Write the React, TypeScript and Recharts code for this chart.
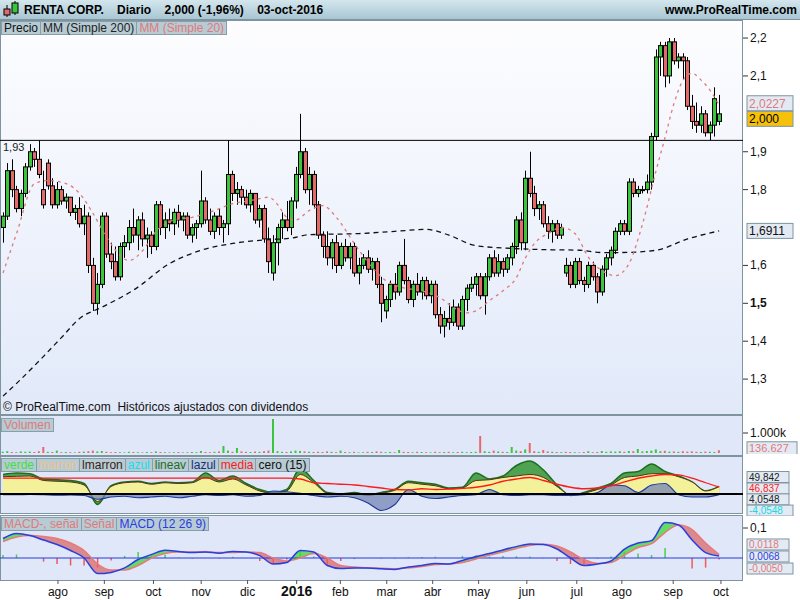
import { Area, Bar, Cell, ComposedChart, Line, ReferenceLine, XAxis, YAxis } from "recharts";

// daily candles, read roughly every second session: [open, high, low, close]
const ohlc: [number, number, number, number][] = [
  [1.70, 1.74, 1.66, 1.73], [1.73, 1.87, 1.72, 1.85], [1.85, 1.88, 1.78, 1.80], [1.80, 1.81, 1.74, 1.75],
  [1.75, 1.80, 1.73, 1.79], [1.79, 1.87, 1.78, 1.86], [1.86, 1.92, 1.85, 1.90], [1.90, 1.91, 1.86, 1.88],
  [1.88, 1.93, 1.83, 1.84], [1.80, 1.85, 1.75, 1.76], [1.87, 1.88, 1.80, 1.81], [1.81, 1.83, 1.75, 1.76],
  [1.76, 1.82, 1.75, 1.80], [1.80, 1.81, 1.76, 1.77], [1.77, 1.79, 1.75, 1.78], [1.78, 1.78, 1.73, 1.74],
  [1.74, 1.76, 1.72, 1.75], [1.75, 1.78, 1.70, 1.71], [1.71, 1.76, 1.68, 1.73], [1.73, 1.74, 1.58, 1.60],
  [1.60, 1.62, 1.48, 1.50], [1.50, 1.58, 1.47, 1.55], [1.55, 1.74, 1.54, 1.73], [1.73, 1.74, 1.62, 1.63],
  [1.63, 1.66, 1.59, 1.61], [1.61, 1.65, 1.56, 1.57], [1.57, 1.66, 1.56, 1.65], [1.65, 1.68, 1.62, 1.66],
  [1.66, 1.72, 1.64, 1.70], [1.70, 1.75, 1.66, 1.68], [1.68, 1.73, 1.64, 1.72], [1.72, 1.74, 1.65, 1.67],
  [1.67, 1.70, 1.62, 1.68], [1.68, 1.69, 1.63, 1.65], [1.65, 1.77, 1.64, 1.76], [1.76, 1.77, 1.68, 1.70],
  [1.70, 1.74, 1.67, 1.72], [1.72, 1.75, 1.69, 1.71], [1.71, 1.75, 1.68, 1.74], [1.74, 1.76, 1.70, 1.72],
  [1.72, 1.74, 1.69, 1.73], [1.73, 1.74, 1.67, 1.68], [1.68, 1.71, 1.66, 1.70], [1.70, 1.72, 1.67, 1.71],
  [1.71, 1.85, 1.70, 1.77], [1.77, 1.78, 1.71, 1.72], [1.72, 1.75, 1.68, 1.69], [1.69, 1.74, 1.67, 1.73],
  [1.73, 1.75, 1.68, 1.70], [1.70, 1.72, 1.66, 1.71], [1.71, 1.93, 1.68, 1.84], [1.84, 1.85, 1.77, 1.79],
  [1.79, 1.82, 1.76, 1.80], [1.80, 1.81, 1.76, 1.78], [1.78, 1.80, 1.75, 1.76], [1.76, 1.80, 1.74, 1.79],
  [1.79, 1.79, 1.71, 1.72], [1.72, 1.76, 1.70, 1.75], [1.75, 1.76, 1.66, 1.67], [1.67, 1.70, 1.58, 1.61],
  [1.58, 1.68, 1.56, 1.66], [1.66, 1.71, 1.60, 1.70], [1.70, 1.74, 1.67, 1.72], [1.72, 1.77, 1.69, 1.70],
  [1.70, 1.78, 1.68, 1.77], [1.77, 1.86, 1.75, 1.84], [1.84, 2.00, 1.83, 1.90], [1.90, 1.91, 1.79, 1.80],
  [1.80, 1.86, 1.76, 1.84], [1.84, 1.85, 1.75, 1.76], [1.76, 1.77, 1.67, 1.68], [1.68, 1.69, 1.62, 1.65],
  [1.65, 1.69, 1.60, 1.62], [1.62, 1.67, 1.59, 1.66], [1.66, 1.68, 1.58, 1.60], [1.60, 1.66, 1.59, 1.65],
  [1.65, 1.67, 1.61, 1.62], [1.62, 1.66, 1.59, 1.65], [1.65, 1.66, 1.57, 1.58], [1.58, 1.62, 1.55, 1.60],
  [1.60, 1.63, 1.59, 1.62], [1.62, 1.64, 1.58, 1.59], [1.59, 1.62, 1.56, 1.61], [1.61, 1.62, 1.54, 1.55],
  [1.55, 1.57, 1.45, 1.50], [1.48, 1.52, 1.46, 1.51], [1.51, 1.56, 1.49, 1.55], [1.55, 1.58, 1.51, 1.53],
  [1.53, 1.61, 1.52, 1.60], [1.60, 1.67, 1.55, 1.56], [1.56, 1.57, 1.50, 1.51], [1.51, 1.56, 1.49, 1.55],
  [1.55, 1.58, 1.52, 1.53], [1.53, 1.57, 1.51, 1.56], [1.56, 1.57, 1.51, 1.52], [1.52, 1.56, 1.50, 1.55],
  [1.55, 1.56, 1.46, 1.47], [1.47, 1.49, 1.42, 1.44], [1.44, 1.48, 1.41, 1.46], [1.46, 1.50, 1.43, 1.45],
  [1.45, 1.51, 1.44, 1.49], [1.49, 1.50, 1.43, 1.44], [1.44, 1.52, 1.43, 1.51], [1.51, 1.55, 1.48, 1.54],
  [1.54, 1.57, 1.53, 1.55], [1.55, 1.58, 1.52, 1.57], [1.57, 1.58, 1.51, 1.52], [1.52, 1.58, 1.47, 1.57],
  [1.57, 1.63, 1.56, 1.62], [1.62, 1.64, 1.57, 1.58], [1.58, 1.63, 1.57, 1.61], [1.61, 1.62, 1.57, 1.59],
  [1.59, 1.63, 1.58, 1.62], [1.62, 1.66, 1.60, 1.65], [1.65, 1.73, 1.63, 1.72], [1.72, 1.74, 1.64, 1.66],
  [1.66, 1.85, 1.64, 1.83], [1.83, 1.90, 1.78, 1.79], [1.79, 1.81, 1.73, 1.75], [1.75, 1.77, 1.72, 1.76],
  [1.76, 1.77, 1.70, 1.71], [1.71, 1.73, 1.67, 1.69], [1.69, 1.72, 1.66, 1.71], [1.71, 1.72, 1.67, 1.68],
  [1.68, 1.71, 1.67, 1.70], [1.58, 1.62, 1.57, 1.60], [1.60, 1.61, 1.54, 1.55], [1.55, 1.62, 1.54, 1.61],
  [1.61, 1.62, 1.55, 1.56], [1.56, 1.57, 1.53, 1.55], [1.55, 1.61, 1.54, 1.60], [1.60, 1.61, 1.56, 1.57],
  [1.57, 1.58, 1.50, 1.53], [1.53, 1.60, 1.52, 1.59], [1.59, 1.63, 1.57, 1.62], [1.62, 1.65, 1.60, 1.64],
  [1.64, 1.70, 1.63, 1.69], [1.69, 1.72, 1.68, 1.71], [1.71, 1.72, 1.68, 1.69], [1.69, 1.83, 1.68, 1.82],
  [1.82, 1.83, 1.78, 1.79], [1.79, 1.81, 1.78, 1.80], [1.80, 1.81, 1.79, 1.80], [1.80, 1.84, 1.79, 1.82],
  [1.82, 1.95, 1.80, 1.94], [1.94, 2.17, 1.93, 2.15], [2.15, 2.19, 2.10, 2.18], [2.18, 2.19, 2.07, 2.10],
  [2.10, 2.20, 2.08, 2.19], [2.19, 2.20, 2.13, 2.14], [2.14, 2.16, 2.12, 2.15], [2.15, 2.16, 2.09, 2.14],
  [2.14, 2.15, 2.01, 2.02], [2.02, 2.05, 1.96, 1.98], [1.98, 2.03, 1.95, 1.97], [1.97, 2.02, 1.95, 2.00],
  [2.00, 2.01, 1.94, 1.95], [1.95, 1.98, 1.93, 1.97], [1.97, 2.07, 1.94, 2.04], [1.98, 2.05, 1.97, 2.00],
];

// volume in thousands, one per candle
const volumes = [
  60, 90, 50, 40, 80, 60, 70, 50, 90, 300, 60, 50, 120, 40, 50, 40, 30, 60, 70, 90,
  120, 80, 100, 60, 40, 50, 40, 30, 60, 50, 40, 30, 50, 40, 80, 50, 40, 30, 40, 50,
  30, 40, 50, 40, 100, 50, 40, 60, 80, 350, 120, 60, 250, 80, 60, 50, 70, 60, 90, 120,
  1700, 90, 60, 50, 80, 120, 100, 80, 60, 50, 60, 50, 80, 60, 40, 120, 50, 40, 60, 30,
  40, 60, 50, 80, 60, 40, 50, 40, 150, 60, 50, 40, 60, 50, 40, 30, 60, 40, 50, 60,
  40, 50, 60, 40, 50, 60, 850, 90, 60, 120, 80, 60, 50, 300, 120, 90, 180, 500, 90, 60,
  150, 80, 60, 50, 40, 60, 50, 40, 30, 50, 90, 40, 50, 100, 60, 80, 70, 90, 60, 100,
  90, 200, 80, 100, 120, 180, 90, 110, 70, 80, 60, 90, 70, 80, 60, 50, 70, 60, 50, 137,
];

// moving averages: [candle index, value]
const ma20: [number, number][] = [
  [0, 1.58], [3, 1.684], [7, 1.816], [10, 1.824], [14, 1.816], [17, 1.79], [20, 1.737], [23, 1.674],
  [28, 1.613], [31, 1.639], [34, 1.69], [38, 1.72], [42, 1.727], [47, 1.745], [51, 1.763], [55, 1.771],
  [59, 1.78], [61, 1.76], [63, 1.727], [65, 1.72], [68, 1.745], [71, 1.758], [74, 1.727], [78, 1.658],
  [82, 1.594], [85, 1.56], [89, 1.541], [93, 1.533], [97, 1.515], [100, 1.489], [103, 1.475], [105, 1.48],
  [108, 1.507], [111, 1.533], [114, 1.568], [116, 1.62], [118, 1.658], [121, 1.684], [124, 1.70], [127, 1.684],
  [130, 1.621], [133, 1.586], [136, 1.573], [139, 1.605], [142, 1.71], [145, 1.85], [147, 1.938], [149, 2.028],
  [151, 2.089], [153, 2.107], [155, 2.089], [157, 2.062], [159, 2.0227],
];
const ma200: [number, number][] = [
  [0, 1.255], [4, 1.30], [9, 1.36], [13, 1.41], [17, 1.46], [22, 1.49], [29, 1.535], [37, 1.605],
  [44, 1.64], [51, 1.658], [59, 1.668], [64, 1.672], [68, 1.681], [79, 1.684], [87, 1.69], [94, 1.695],
  [99, 1.68], [105, 1.652], [113, 1.645], [119, 1.642], [128, 1.64], [133, 1.634], [137, 1.634], [145, 1.64],
  [152, 1.67], [159, 1.6911],
];

// lower panels, one value every third candle
const verde = [130, 140, 135, 100, 95, 90, 70, -70, 55, 80, 85, 70, 80, 75, 80, 140, 90, 120, 70, 30,
  10, 30, 170, 90, 10, 0, 10, -5, 10, 30, 85, 75, 65, 40, 45, 140, 100, 120, 190, 220,
  160, 60, -10, 10, 40, 70, 140, 150, 200, 150, 120, 80, 20, 49.8];
const marron = [115, 118, 120, 90, 85, 80, 60, -50, 50, 75, 80, 65, 75, 70, 75, 110, 80, 100, 60, 20,
  5, 20, 130, 75, 5, -5, 5, -10, 5, 25, 75, 65, 55, 35, 40, 90, 95, 110, 120, 130,
  110, 50, -5, 5, 30, 60, 110, 120, 135, 135, 115, 80, 20, 49.8];
const azul = [-5, -5, -3, -5, -8, -6, -10, -35, -20, -15, -25, -20, -15, -25, -15, -5, -10, -5, -15, -10,
  20, 15, 5, -10, -20, -15, -25, -60, -110, -70, 30, -15, -30, -20, -10, -5, 30, -5, -10, -5,
  -5, -10, -10, -5, 10, 60, 55, 10, 60, 70, -5, -20, -20, -4.05];
const media = [106, 106, 106, 106, 106, 106, 106, 106, 106, 106, 106, 106, 106, 106, 106, 106, 106, 106, 106, 106,
  106, 106, 100, 75, 70, 65, 60, 50, 40, 30, 28, 35, 30, 32, 38, 45, 60, 85, 100, 110,
  90, 65, 45, 35, 40, 55, 80, 105, 120, 130, 128, 105, 75, 46.8];
const macd = [0.065, 0.082, 0.075, 0.06, 0.045, 0.025, 0.0, -0.052, -0.048, -0.033, -0.005, 0.012, 0.026, 0.022,
  0.018, 0.02, 0.016, 0.022, 0.02, 0.008, -0.02, -0.015, 0.025, 0.02, -0.025, -0.035, -0.033, -0.033,
  -0.036, -0.038, -0.03, -0.025, -0.018, -0.02, -0.008, 0.005, 0.015, 0.027, 0.038, 0.047, 0.045, 0.03,
  0.0, -0.025, -0.02, -0.01, 0.03, 0.05, 0.058, 0.118, 0.11, 0.06, 0.018, 0.0068];
const senal = [0.055, 0.07, 0.075, 0.072, 0.065, 0.05, 0.025, -0.02, -0.04, -0.04, -0.025, 0.0, 0.015, 0.02,
  0.02, 0.02, 0.018, 0.018, 0.02, 0.018, 0.0, -0.01, 0.0, 0.015, 0.0, -0.025, -0.03, -0.033,
  -0.034, -0.036, -0.033, -0.028, -0.022, -0.02, -0.015, -0.003, 0.01, 0.02, 0.032, 0.042, 0.046, 0.04,
  0.02, -0.005, -0.018, -0.015, 0.01, 0.035, 0.048, 0.085, 0.11, 0.095, 0.05, 0.0118];

const monthTicks: [number, string][] = [
  [12.2, "ago"], [22.5, "sep"], [33.4, "oct"], [44, "nov"], [54.3, "dic"], [65.2, "2016"], [74.9, "feb"],
  [85.2, "mar"], [95.4, "abr"], [105.6, "may"], [116.3, "jun"], [127.4, "jul"], [137.4, "ago"], [148.8, "sep"],
  [159.4, "oct"],
];

const GREEN = "#3dc43d";
const RED = "#e46a6a";
const PINK = "#e07a7a";
const FONT = "'Liberation Sans', Arial, sans-serif";
const X_DOMAIN: [number, number] = [-0.67, 164.3];

const ma20Map = new Map(ma20);
const ma200Map = new Map(ma200);
const priceData = ohlc.map(([o, h, l, c], i) => ({
  i, o, h, l, c,
  v: volumes[i],
  down: i > 0 && c < ohlc[i - 1][3],
  ma20: ma20Map.get(i) ?? null,
  ma200: ma200Map.get(i) ?? null,
}));

const lowerData = verde.map((g, k) => ({
  i: k * 3,
  verde: g,
  marron: marron[k],
  azul: azul[k],
  media: media[k],
  macd: macd[k],
  senal: senal[k],
  hist: macd[k] - senal[k],
  up: macd[k] >= senal[k] ? [senal[k], macd[k]] : [senal[k], senal[k]],
  dn: macd[k] < senal[k] ? [macd[k], senal[k]] : [macd[k], macd[k]],
}));

function Candle(props: any) {
  const { x, y, width, height, payload } = props;
  const { o, h, l, c } = payload;
  const cx = Math.round(x + width / 2) + 0.5;
  const span = h - l;
  const py = (val: number) => (span > 0 ? y + ((h - val) / span) * height : y);
  const top = py(Math.max(o, c));
  const bot = py(Math.min(o, c));
  return (
    <g>
      <line x1={cx} x2={cx} y1={y} y2={y + height} stroke="#000" strokeWidth={1} />
      <rect x={cx - 2} y={top} width={4} height={Math.max(1, bot - top)} fill={c >= o ? GREEN : RED} stroke="#000" strokeWidth={1} />
    </g>
  );
}

function AxisTick({ x, y, payload, fmt, bold }: any) {
  return (
    <text x={x} y={y} dy={4} fontSize={12} fontFamily={FONT} fill="#111" textAnchor="start"
      fontWeight={bold && payload.value === bold ? 700 : 400}>
      {fmt(payload.value)}
    </text>
  );
}

function MonthTick({ x, y, payload }: any) {
  const label = monthTicks.find((t) => t[0] === payload.value)?.[1] ?? "";
  return (
    <text x={x} y={y} dy={10} fontSize={label === "2016" ? 14 : 12} fontWeight={label === "2016" ? 700 : 400}
      fontFamily={FONT} fill="#111" textAnchor="middle">
      {label}
    </text>
  );
}

function Tag({ viewBox, text, color, bg, dy = 0, w = 44, fs = 12, h = 15 }: any) {
  const x = viewBox.x + viewBox.width + 4;
  const y = viewBox.y + dy;
  return (
    <g>
      <rect x={x} y={y - h / 2} width={w} height={h} fill={bg} stroke="#7e95a1" />
      <text x={x + 2} y={y + fs * 0.36} fontSize={fs} fontFamily={FONT} fill={color}>{text}</text>
    </g>
  );
}

function Tabs({ items, top }: { items: [string, string][]; top: number }) {
  return (
    <div style={{ position: "absolute", left: 1, top, display: "flex", height: 14, borderLeft: "1px solid #889ea9" }}>
      {items.map(([t, col]) => (
        <div key={t} style={{ background: "#b7cbd4", border: "1px solid #889ea9", borderLeft: "none", color: col,
          fontSize: 12, lineHeight: "13px", padding: "0 2px", whiteSpace: "nowrap" }}>{t}</div>
      ))}
    </div>
  );
}

const comma = (d: number) => (v: number) => v.toFixed(d).replace(".", ",");
const panel = (top: number, height: number, bg: string): React.CSSProperties => ({
  position: "absolute", left: 0, top, width: 743, height, boxSizing: "border-box",
  border: "1px solid #7e95a1", background: bg,
});
const abs = (top: number): React.CSSProperties => ({ position: "absolute", left: 0, top });
const noMargin = { top: 0, right: 0, bottom: 0, left: 0 };
const small = { fs: 10, h: 11, bg: "#e3eaf4" };

export default function App() {
  return (
    <div style={{ position: "fixed", left: 0, top: 0, width: 800, height: 600, background: "#fff", overflow: "hidden", fontFamily: FONT }}>
      <div style={{ position: "absolute", left: 0, top: 0, width: 800, height: 19, borderBottom: "1px solid #7e95a1",
        background: "linear-gradient(#d4e6ed, #a8c6d3)" }}>
        <svg width={20} height={19} style={{ position: "absolute", left: 2, top: 0 }}>
          <line x1={5} x2={5} y1={5} y2={17} stroke="#000" />
          <rect x={2} y={9} width={6} height={6} fill={RED} stroke="#000" />
          <line x1={13} x2={13} y1={1} y2={15} stroke="#000" />
          <rect x={10} y={3} width={6} height={10} fill={GREEN} stroke="#000" />
        </svg>
        <div style={{ position: "absolute", left: 24, top: 3, fontSize: 12, fontWeight: 700, whiteSpace: "pre" }}>
          {"RENTA CORP.    Diario    2,000 (-1,96%)    03-oct-2016"}
        </div>
        <div style={{ position: "absolute", right: 3, top: 3, fontSize: 12, fontWeight: 700 }}>www.ProRealTime.com</div>
      </div>

      <div style={panel(20, 395, "linear-gradient(#fdfdff, #e1e9f9)")} />
      <div style={panel(415, 41, "#dfe7f9")} />
      <div style={panel(456, 58, "#dfe7f9")} />
      <div style={panel(515, 66, "#dfe7f9")} />

      <div style={abs(21)}>
        <ComposedChart width={800} height={393} data={priceData} margin={noMargin}>
          <XAxis type="number" dataKey="i" domain={X_DOMAIN} allowDataOverflow hide />
          <YAxis orientation="right" width={57} domain={[1.2079, 2.245]} allowDataOverflow
            ticks={[1.3, 1.4, 1.5, 1.6, 1.8, 1.9, 2.1, 2.2]}
            axisLine={false} tickLine={{ stroke: "#333" }} tickSize={5} tickMargin={2}
            tick={<AxisTick fmt={comma(1)} bold={1.5} />} />
          <ReferenceLine y={1.93} stroke="#000" strokeWidth={1}
            label={{ value: "1,93", position: "insideTopLeft", fill: "#222", fontSize: 11, offset: 3 }} />
          <Line dataKey="ma200" type="monotone" connectNulls stroke="#111" strokeWidth={1.3} strokeDasharray="5 4" dot={false} isAnimationActive={false} />
          <Line dataKey="ma20" type="monotone" connectNulls stroke={PINK} strokeWidth={1.3} strokeDasharray="3 4" dot={false} isAnimationActive={false} />
          <Bar dataKey={(d: any) => [d.l, d.h]} barSize={4} shape={<Candle />} isAnimationActive={false} />
          <ReferenceLine y={2.0227} stroke="none" label={<Tag text="2,0227" color={PINK} bg="#e3eaf4" dy={-2} w={46} />} />
          <ReferenceLine y={2.0} stroke="none" label={<Tag text="2,000" color="#000" bg="#f5c10a" dy={5} w={46} />} />
          <ReferenceLine y={1.6911} stroke="none" label={<Tag text="1,6911" color="#111" bg="#e3eaf4" w={46} />} />
        </ComposedChart>
      </div>
      <Tabs top={21} items={[["Precio", "#111"], ["MM (Simple 200)", "#222"], ["MM (Simple 20)", PINK]]} />
      <div style={{ position: "absolute", left: 3, top: 400, fontSize: 12, color: "#111", whiteSpace: "pre" }}>
        {"© ProRealTime.com  Históricos ajustados con dividendos"}
      </div>

      <div style={abs(417)}>
        <ComposedChart width={800} height={37} data={priceData} margin={noMargin}>
          <XAxis type="number" dataKey="i" domain={X_DOMAIN} allowDataOverflow hide />
          <YAxis orientation="right" width={57} domain={[-50, 1800]} allowDataOverflow ticks={[1000]}
            axisLine={false} tickLine={{ stroke: "#333" }} tickSize={5} tickMargin={2}
            tick={<AxisTick fmt={() => "1.000k"} />} />
          <Bar dataKey="v" barSize={2} isAnimationActive={false}>
            {priceData.map((d) => <Cell key={d.i} fill={d.down ? RED : GREEN} />)}
          </Bar>
          <ReferenceLine y={136.627} stroke="none" label={<Tag text="136.627" color={PINK} bg="#e3eaf4" dy={-2} w={50} fs={11} h={13} />} />
        </ComposedChart>
      </div>
      <Tabs top={418} items={[["Volumen", PINK]]} />

      <div style={abs(458)}>
        <ComposedChart width={800} height={58} data={lowerData} margin={noMargin}>
          <XAxis type="number" dataKey="i" domain={X_DOMAIN} allowDataOverflow hide />
          <YAxis orientation="right" width={57} domain={[-146.7, 240]} allowDataOverflow ticks={[200]}
            axisLine={false} tickLine={{ stroke: "#333" }} tickSize={5} tickMargin={2}
            tick={<AxisTick fmt={(v: number) => String(v)} />} />
          <Area dataKey="verde" type="monotone" fill="#3e9a3e" fillOpacity={0.9} stroke="#1d6e1d" strokeWidth={1.5} isAnimationActive={false} />
          <Area dataKey="marron" type="monotone" fill="#f3f19a" fillOpacity={1} stroke="#5a2e18" strokeWidth={1} isAnimationActive={false} />
          <Area dataKey="azul" type="monotone" fill="#7684b4" fillOpacity={0.75} stroke="#1c3a9a" strokeWidth={1.2} isAnimationActive={false} />
          <Line dataKey="media" type="monotone" stroke="#ff1a1a" strokeWidth={1.3} dot={false} isAnimationActive={false} />
          <ReferenceLine y={0} stroke="#000" strokeWidth={2} />
          <ReferenceLine y={49.842} stroke="none" label={<Tag text="49,842" color="#222" dy={-9.5} w={42} {...small} />} />
          <ReferenceLine y={46.837} stroke="none" label={<Tag text="46,837" color="#ff2020" dy={1.5} w={42} {...small} />} />
          <ReferenceLine y={4.0548} stroke="none" label={<Tag text="4,0548" color="#222" dy={6} w={42} {...small} />} />
          <ReferenceLine y={-4.0548} stroke="none" label={<Tag text="-4,0548" color="#18d8e0" dy={16} w={46} {...small} />} />
        </ComposedChart>
      </div>
      <Tabs top={458} items={[["verde", "#3ee03e"], ["marron", "#f0c28a"], ["lmarron", "#3a1c14"], ["azul", "#10e0f0"],
        ["lineav", "#1e6e1e"], ["lazul", "#1a2a80"], ["media", "#ff1a1a"], ["cero (15)", "#111"]]} />

      <div style={abs(517)}>
        <ComposedChart width={800} height={85} data={lowerData} margin={noMargin}>
          <XAxis type="number" dataKey="i" domain={X_DOMAIN} allowDataOverflow height={22}
            ticks={monthTicks.map((t) => t[0])} interval={0} axisLine={false}
            tickLine={{ stroke: "#555" }} tickSize={4} tickMargin={2} tick={<MonthTick />} />
          <YAxis orientation="right" width={57} domain={[-0.0733, 0.1367]} allowDataOverflow ticks={[0.1]}
            axisLine={false} tickLine={{ stroke: "#333" }} tickSize={5} tickMargin={2}
            tick={<AxisTick fmt={comma(1)} />} />
          <Bar dataKey="hist" barSize={1.5} isAnimationActive={false}>
            {lowerData.map((d) => <Cell key={d.i} fill={d.hist >= 0 ? "#4ad04a" : "#ee5a5a"} />)}
          </Bar>
          <Area dataKey="up" type="monotone" fill="#58d858" fillOpacity={0.9} stroke="none" isAnimationActive={false} />
          <Area dataKey="dn" type="monotone" fill="#d86a6a" fillOpacity={0.75} stroke="none" isAnimationActive={false} />
          <ReferenceLine y={0} stroke="#2b3ce0" strokeWidth={1.2} />
          <Line dataKey="senal" type="monotone" stroke="#e87a7a" strokeWidth={1.5} dot={false} isAnimationActive={false} />
          <Line dataKey="macd" type="monotone" stroke="#2b3ce0" strokeWidth={1.5} dot={false} isAnimationActive={false} />
          <ReferenceLine y={0.0118} stroke="none" label={<Tag text="0,0118" color={PINK} dy={-10} w={42} {...small} />} />
          <ReferenceLine y={0.0068} stroke="none" label={<Tag text="0,0068" color="#2b3ce0" dy={0.5} w={42} {...small} />} />
          <ReferenceLine y={-0.005} stroke="none" label={<Tag text="-0,0050" color={PINK} dy={9} w={46} {...small} />} />
        </ComposedChart>
      </div>
      <Tabs top={517} items={[["MACD-, señal", PINK], ["Señal", PINK], ["MACD (12 26 9)", "#2b3ce0"]]} />
    </div>
  );
}
